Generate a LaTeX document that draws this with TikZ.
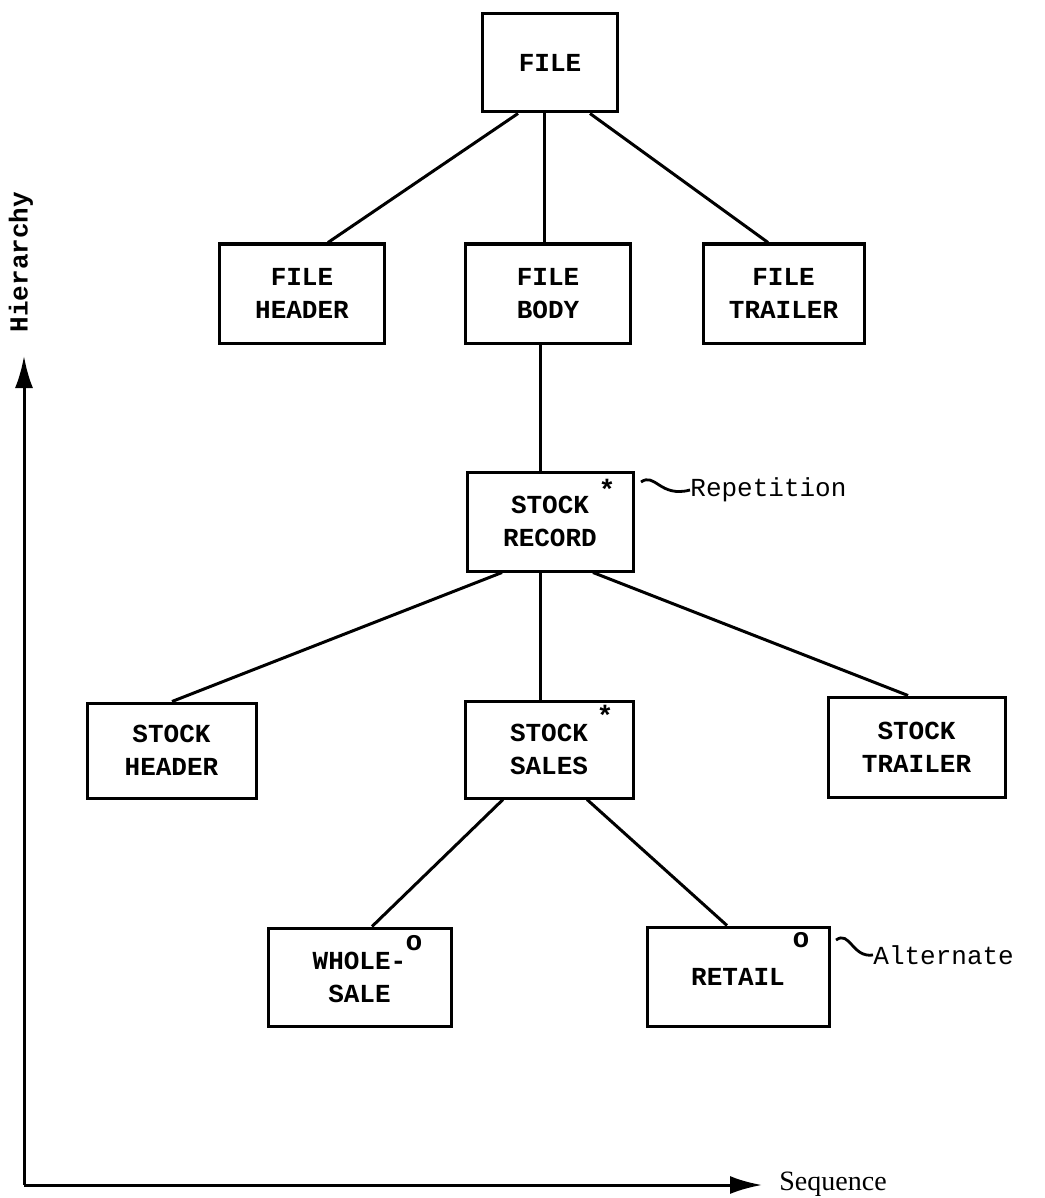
\documentclass[tikz,border=0pt]{standalone}
\usepackage{fontspec}
\setmainfont{Liberation Mono}
\newfontfamily\seqfont{Liberation Serif}
\usetikzlibrary{arrows.meta}
\begin{document}
\begin{tikzpicture}[x=0.5pt,y=-0.5pt,
  box/.style={draw,line width=1.5pt,inner sep=0pt,align=center,font=\fontsize{13}{16.5}\selectfont\bfseries},
  link/.style={line width=1.5pt},
  symb/.style={inner sep=0pt,font=\fontsize{14}{14}\selectfont\bfseries},
  lbl/.style={inner sep=0pt,anchor=west,font=\fontsize{13}{14}\selectfont},
  tilde/.style={line width=1.4pt},
  axis/.style={line width=1.5pt,-{Latex[length=16pt,width=9pt]}}]
\useasboundingbox (0,0) rectangle (1044,1198);
% boxes
\node[box,minimum width=67.5pt,minimum height=49pt] (file) at (550,63) {FILE};
\node[box,minimum width=82.5pt,minimum height=49.5pt] (fhead) at (302,293.5) {FILE\\HEADER};
\node[box,minimum width=82.5pt,minimum height=49.5pt] (fbody) at (548,293.5) {FILE\\BODY};
\node[box,minimum width=80.5pt,minimum height=49.5pt] (ftrail) at (783.5,293.5) {FILE\\TRAILER};
\node[box,minimum width=83pt,minimum height=49.5pt] (srec) at (550,521.5) {STOCK\\RECORD};
\node[box,minimum width=84.5pt,minimum height=47.5pt] (shead) at (171.5,750.5) {STOCK\\HEADER};
\node[box,minimum width=84pt,minimum height=48.5pt] (ssales) at (549,749.5) {STOCK\\SALES};
\node[box,minimum width=88.5pt,minimum height=50pt] (strail) at (916.5,747) {STOCK\\TRAILER};
\node[box,minimum width=91.5pt,minimum height=49pt] (whole) at (359.5,977) {WHOLE-\\SALE};
\node[box,minimum width=91pt,minimum height=49.5pt] (retail) at (738,976.5) {RETAIL};
% markers
\node[symb] (srecstar) at (607,489) {*};
\node[symb] (ssalesstar) at (605,715) {*};
\node[symb] (wholeo) at (414,943) {o};
\node[symb] (retailo) at (801,940) {o};
% side labels
\node[lbl] (rep) at (690,490) {Repetition};
\node[lbl] (alt) at (873,955) {Alternate};
\coordinate (reptip) at (641,482);
\coordinate (alttip) at (836,940);
\draw[tilde] (reptip) .. controls (655,472) and (660,498) .. (rep.west);
\draw[tilde] (alttip) .. controls (850,930) and (852,958) .. (alt.west);
% connectors
\draw[link] (file.south -| 518,0) -- (fhead.north -| 328,0);
\draw[link] (file.south -| 544,0) -- (fbody.north -| 544,0);
\draw[link] (file.south -| 590,0) -- (ftrail.north -| 768,0);
\draw[link] (fbody.south -| 540,0) -- (srec.north -| 540,0);
\draw[link] (srec.south -| 502,0) -- (shead.north -| 172,0);
\draw[link] (srec.south -| 540,0) -- (ssales.north -| 540,0);
\draw[link] (srec.south -| 593,0) -- (strail.north -| 908,0);
\draw[link] (ssales.south -| 503,0) -- (whole.north -| 372,0);
\draw[link] (ssales.south -| 587,0) -- (retail.north -| 727,0);
% axes
\coordinate (origin) at (24,1185);
\coordinate (htip) at (24,356);
\coordinate (stip) at (762,1185);
\draw[axis] (origin) -- (htip);
\draw[axis] (origin) -- (stip);
\node[inner sep=0pt,anchor=west,font=\seqfont\fontsize{14}{14}\selectfont] (seq) at (779,1184) {Sequence};
\node[inner sep=0pt,rotate=90,font=\fontsize{13}{14}\selectfont\bfseries] (hier) at (21,262) {Hierarchy};
\end{tikzpicture}
\end{document}
